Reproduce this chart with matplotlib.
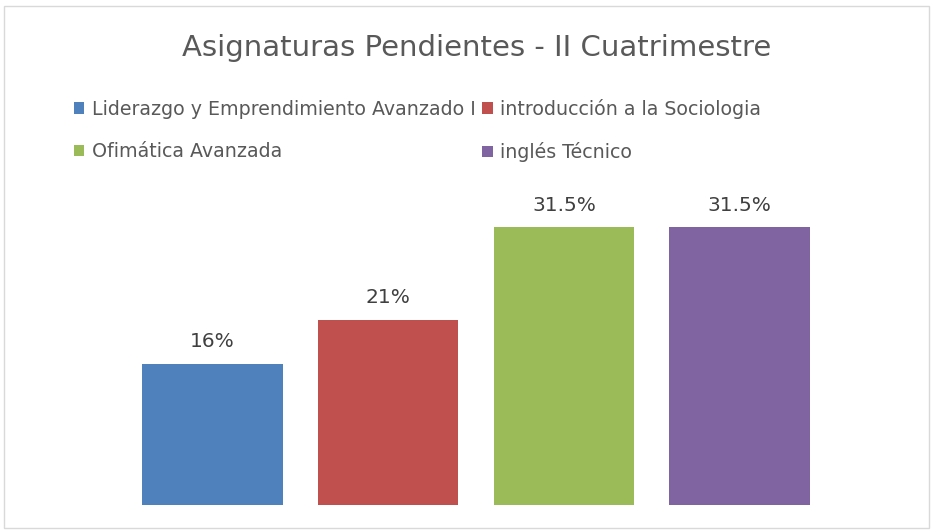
import numpy as np
import matplotlib.pyplot as plt
from matplotlib.patches import Rectangle

# data
asignaturas = ["Liderazgo y Emprendimiento Avanzado I", "introducción a la Sociologia",
               "Ofimática Avanzada", "inglés Técnico"]
porcentajes = [16, 21, 31.5, 31.5]
etiquetas = ["16%", "21%", "31.5%", "31.5%"]
colores = ["#4F81BD", "#C0504D", "#9BBB59", "#8064A2"]

plt.rcParams['font.family'] = ['DejaVu Sans']
W, H = 933, 531
fig = plt.figure(figsize=(W / 100, H / 100), dpi=100)

# chart border
fig.patches.append(Rectangle((4 / W, 3 / H), 925 / W, 522 / H, transform=fig.transFigure,
                             fill=False, edgecolor="#D9D9D9", linewidth=1))

# axes placed in pixel coords: x 124.5..827.5, y 196..505
ax = fig.add_axes([124.5 / W, (H - 505) / H, 703 / W, 309 / H])
x = np.arange(len(asignaturas))
bars = ax.bar(x, porcentajes, width=0.8, color=colores)
for b, lab in zip(bars, etiquetas):
    ax.text(b.get_x() + b.get_width() / 2, b.get_height() + 1.4, lab,
            ha="center", va="bottom", fontsize=14.5, color="#404040")
ax.set_xlim(-0.5, 3.5)
ax.set_ylim(0, 35)
ax.axis("off")

fig.text(477 / W, 1 - 48 / H, "Asignaturas Pendientes - II Cuatrimestre",
         ha="center", va="center", fontsize=21, color="#595959")

# legend, row-wise order
order = [0, 2, 1, 3]
leg = fig.legend([bars[i] for i in order], [asignaturas[i] for i in order], ncol=2,
                 loc="upper left", bbox_to_anchor=(66 / W, 1 - 91 / H),
                 frameon=False, fontsize=13.7, labelcolor="#595959",
                 handlelength=0.55, handleheight=0.55, handletextpad=0.4,
                 columnspacing=0.35, labelspacing=1.25, borderaxespad=0)

fig.savefig("out.png", dpi=100)
